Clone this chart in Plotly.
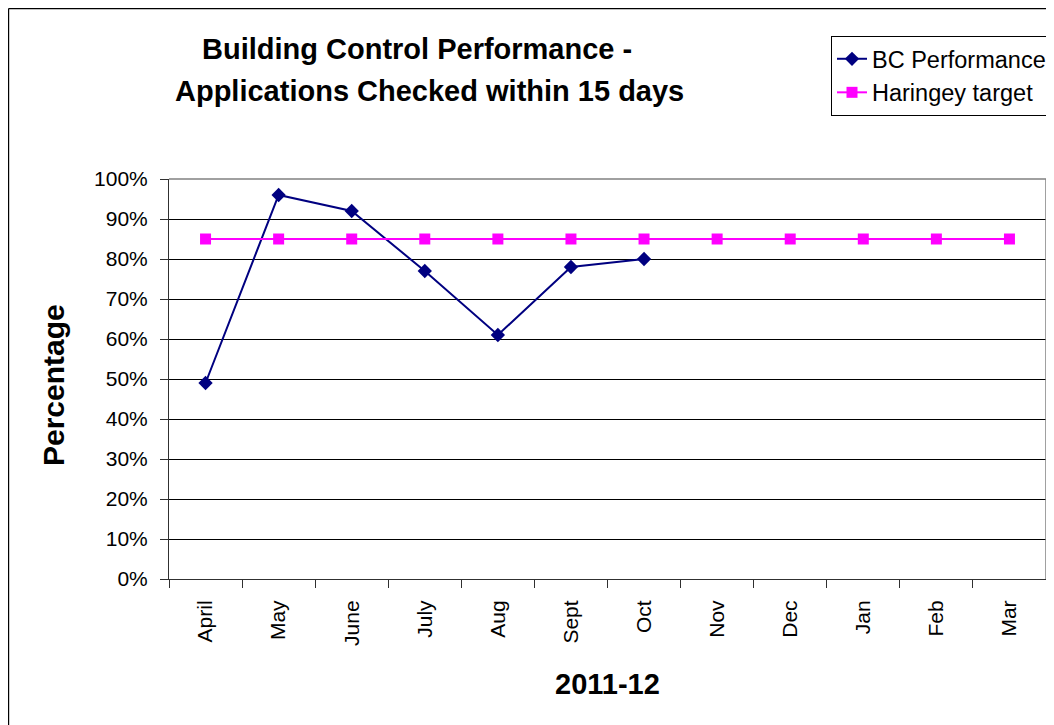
import plotly.graph_objects as go

months = ["April", "May", "June", "July", "Aug", "Sept", "Oct", "Nov", "Dec", "Jan", "Feb", "Mar"]
bc_months = ["April", "May", "June", "July", "Aug", "Sept", "Oct"]
bc_performance = [49, 96, 92, 77, 61, 78, 80]
target = [85] * 12
y_ticks = [0, 10, 20, 30, 40, 50, 60, 70, 80, 90, 100]
y_tick_labels = ["0%", "10%", "20%", "30%", "40%", "50%", "60%", "70%", "80%", "90%", "100%"]

FONT = "Liberation Sans, Arial, sans-serif"

fig = go.Figure()
fig.add_trace(go.Scatter(
    x=bc_months, y=bc_performance, mode="lines+markers", name="BC Performance",
    line=dict(color="#000080", width=2),
    marker=dict(symbol="diamond", size=11, color="#000080"),
    legendgroup="a",
))
fig.add_trace(go.Scatter(
    x=months, y=target, mode="lines+markers", name="Haringey target",
    line=dict(color="#FF00FF", width=2),
    marker=dict(symbol="square", size=11, color="#FF00FF"),
    legendgroup="b",
))

OFF = 8  # page body margin
L, R, T, B = 169, 1046, 179, 579
W, H = 1054 - OFF, 725 - OFF
pw, ph = R - L, B - T

def px(x):
    return (x - L) / pw

def py(y):
    return (B - y) / ph

fig.update_layout(
    width=W, height=H,
    margin=dict(l=L - OFF, r=W - (R - OFF), t=T - OFF, b=H - (B - OFF), autoexpand=False),
    paper_bgcolor="white", plot_bgcolor="white",
    font=dict(family=FONT, color="black", size=21),
    showlegend=True,
    legend=dict(
        x=px(831), y=py(36), xanchor="left", yanchor="top",
        bordercolor="black", borderwidth=1, bgcolor="white",
        font=dict(family=FONT, size=23.5, color="black"),
        tracegroupgap=13, traceorder="normal",
    ),
    xaxis=dict(
        type="category", categoryorder="array", categoryarray=months,
        range=[-0.5, 11.5], tickson="boundaries",
        ticks="outside", ticklen=8, tickcolor="#303030", tickangle=-90,
        showline=True, linecolor="#303030", linewidth=1,
        showgrid=False, zeroline=False,
        tickfont=dict(family=FONT, size=21, color="black"),
        ticklabelstandoff=12,
    ),
    yaxis=dict(
        range=[0, 100], tickmode="array", tickvals=y_ticks, ticktext=y_tick_labels,
        ticks="outside", ticklen=8, tickcolor="#303030",
        showline=True, linecolor="#303030", linewidth=1,
        showgrid=True, gridcolor="black", gridwidth=1, zeroline=False,
        tickfont=dict(family=FONT, size=21, color="black"),
        ticklabelstandoff=8,
    ),
    shapes=[
        dict(type="line", xref="paper", yref="paper", x0=0, x1=1, y0=1, y1=1,
             line=dict(color="#808080", width=1.5), layer="above"),
        dict(type="line", xref="paper", yref="paper", x0=1, x1=1, y0=0, y1=1,
             line=dict(color="#808080", width=1.5), layer="above"),
        dict(type="line", xref="paper", yref="paper", x0=px(8.6), x1=px(8.6), y0=py(8.6), y1=py(740),
             line=dict(color="black", width=1.2)),
        dict(type="line", xref="paper", yref="paper", x0=px(8.6), x1=px(1070), y0=py(8.6), y1=py(8.6),
             line=dict(color="black", width=1.2)),
    ],
    annotations=[
        dict(text="<b>Building Control Performance -</b>", xref="paper", yref="paper",
             x=px(417), y=py(49), xanchor="center", yanchor="middle", showarrow=False,
             font=dict(family=FONT, size=29, color="black")),
        dict(text="<b>Applications Checked within 15 days</b>", xref="paper", yref="paper",
             x=px(429), y=py(91), xanchor="center", yanchor="middle", showarrow=False,
             font=dict(family=FONT, size=29, color="black")),
        dict(text="<b>Percentage</b>", xref="paper", yref="paper",
             x=px(53), y=py(385), xanchor="center", yanchor="middle", showarrow=False,
             textangle=-90, font=dict(family=FONT, size=30, color="black")),
        dict(text="<b>2011-12</b>", xref="paper", yref="paper",
             x=px(607), y=py(684), xanchor="center", yanchor="middle", showarrow=False,
             font=dict(family=FONT, size=29, color="black")),
    ],
)

fig.write_html("out.html")
